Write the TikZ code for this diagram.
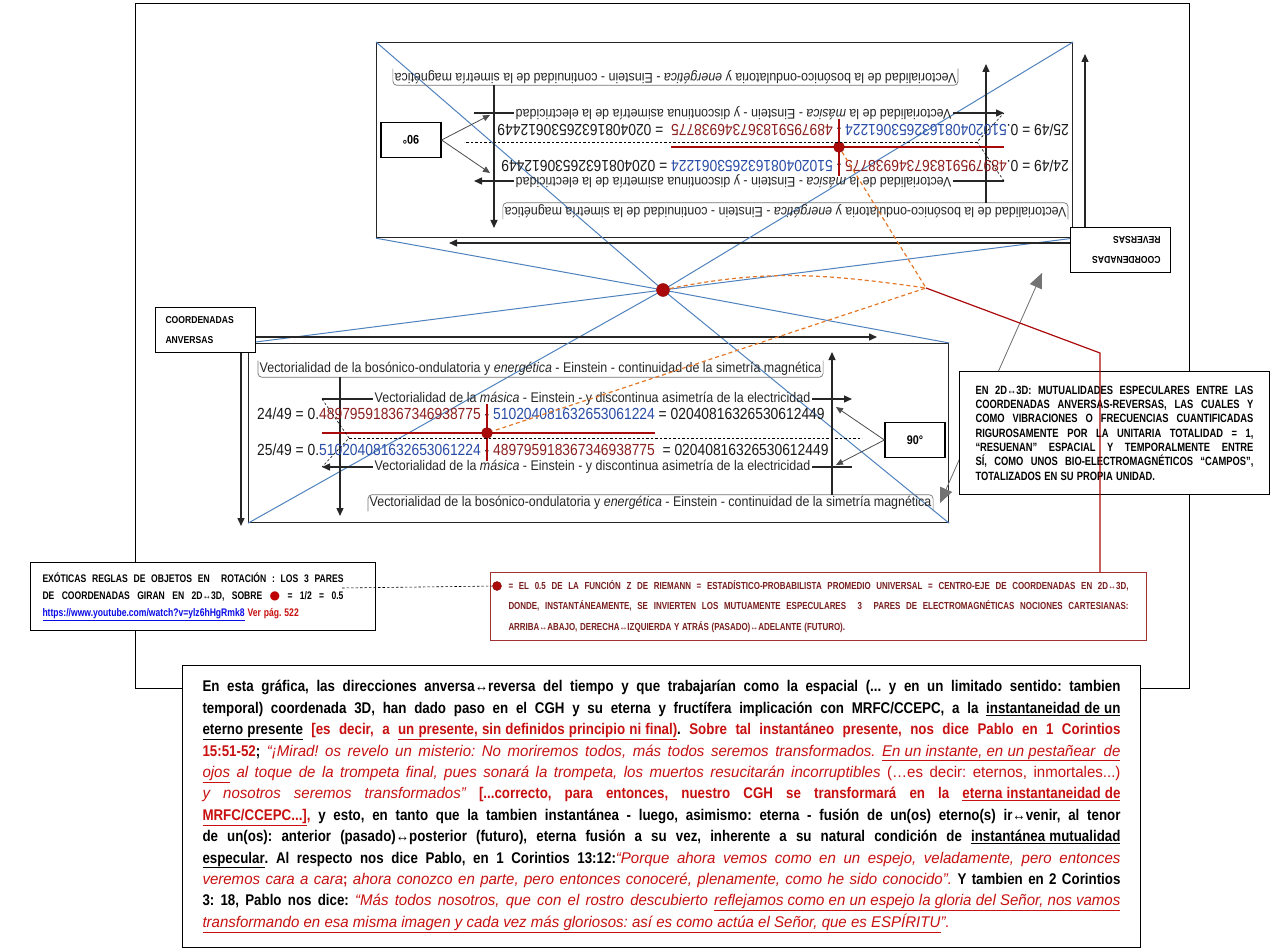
\documentclass[tikz,border=0pt]{standalone}
\usepackage{fontspec}
\setmainfont{Liberation Sans}
\newfontfamily\nsans[FakeStretch=0.86]{Liberation Sans}
\newfontfamily\isans[FakeStretch=0.97]{Liberation Sans}
\newfontfamily\vsans[FakeStretch=0.89]{Liberation Sans}
\newfontfamily\csans[FakeStretch=0.78]{Liberation Sans}
\newfontfamily\symfont{DejaVu Sans}
\usetikzlibrary{arrows.meta,calc}

\definecolor{tred}{RGB}{200,16,16}
\definecolor{nred}{RGB}{140,30,30}
\definecolor{nblue}{RGB}{40,75,165}
\definecolor{lblue}{RGB}{79,129,189}
\definecolor{dred}{RGB}{170,10,10}
\definecolor{ora}{RGB}{228,120,40}
\definecolor{linkb}{RGB}{10,10,230}
\definecolor{boxred}{RGB}{160,50,50}
\definecolor{capred}{RGB}{120,30,30}

\newcommand\rb[1]{\textcolor{tred}{#1}}
\newcommand\ri[1]{\textcolor{tred}{\isans\mdseries\itshape #1}}
\newcommand\rr[1]{\textcolor{tred}{\isans\mdseries #1}}
\newcommand\jset{\frenchspacing\spaceskip=0.27em plus 1em minus 0.06em\relax}
\newcommand\jline[1]{\makebox[\hsize][s]{#1}}

% one panel of vectors, given in the frame of the lower panel
\newcommand\coordpanel[2]{%
  \node[vtxt, anchor=west] (#1-up) at (258,369) {Vectorialidad de la bosónico-ondulatoria y \textit{energética} - Einstein - continuidad de la simetría magnética};
  \draw[brk] (#1-up.north west) |- (#1-up.south east) -- (#1-up.north east);
  \coordinate (#1-dn) at (340,516);
  \draw[flow] (#1-up.south -| #1-dn) -- (#1-dn);

  \node[vtxt, anchor=west] (#1-m1) at (373,399) {Vectorialidad de la \textit{másica} - Einstein - y discontinua asimetría de la electricidad};
  \coordinate (#1-m1l) at (322,399);
  \coordinate (#1-m1r) at (852,399);
  \draw[plain] (#1-m1l) -- (#1-m1.west);
  \draw[flow] (#1-m1.east) -- (#1-m1r);

  \node[numtxt, anchor=west] (#1-n1) at (257,414) {24/49 = 0.\textcolor{nred}{489795918367346938775} - \textcolor{nblue}{510204081632653061224} = 02040816326530612449};
  \node[numtxt, anchor=west] (#1-n2) at (257,450) {25/49 = 0.\textcolor{nblue}{510204081632653061224} - \textcolor{nred}{489795918367346938775}\ \ = 02040816326530612449};

  \coordinate (#1-rl) at (322,433);
  \coordinate (#1-rr) at (655,433);
  \coordinate (#1-rt) at (487,404);
  \coordinate (#1-rb) at (487,461);
  \draw[rline] (#1-rl) -- (#1-rr);
  \draw[rline] (#1-rt) -- (#1-rb);
  \node[pdot] (#1-dot) at (487,433) {};

  \coordinate (#1-dl) at (349,438);
  \coordinate (#1-dr) at (862,438);
  \draw[dsh] (#1-dl) -- (#1-dr);

  \node[vtxt, anchor=west] (#1-m2) at (373,467) {Vectorialidad de la \textit{másica} - Einstein - y discontinua asimetría de la electricidad};
  \coordinate (#1-m2l) at (322,467);
  \coordinate (#1-m2r) at (852,467);
  \draw[flow] (#1-m2.west) -- (#1-m2l);
  \draw[plain] (#1-m2.east) -- (#1-m2r);
  \draw[dsh] (#1-m1l) -- (#1-dl) -- (#1-m2l);

  \node[vtxt, anchor=west] (#1-lo) at (368,503) {Vectorialidad de la bosónico-ondulatoria y \textit{energética} - Einstein - continuidad de la simetría magnética};
  \draw[brk] (#1-lo.south west) |- (#1-lo.north east) -- (#1-lo.south east);
  \coordinate (#1-ua) at (832,352);
  \draw[flow] (#1-lo.north -| #1-ua) -- (#1-ua);

  \node[degbox] (#1-deg) at (915,440) {90°};
  \coordinate (#1-g1) at (836,407);
  \coordinate (#1-g2) at (836,465);
  \draw[thinarr] (#1-deg.west) -- (#1-g1);
  \draw[thinarr] (#1-deg.west) -- (#1-g2);

  % axis box with its two arrows
  \coordinate (#1-hr) at (877,337);
  \coordinate (#1-vd) at (241,526);
  \node[cbox, anchor=north west] (#1-cb) at (155,307) {COORDENADAS\\#2};
  \draw[flow] (#1-cb.east |- #1-hr) -- (#1-hr);
  \draw[flow] (#1-cb.south -| #1-vd) -- (#1-vd);
}

\begin{document}
\begin{tikzpicture}[x=1pt, y=-1pt,
  frame/.style={draw=black, line width=0.9pt, inner sep=0pt},
  panel/.style={draw=black!85, line width=1.2pt, inner sep=0pt},
  bline/.style={draw=lblue, line width=1pt},
  vtxt/.style={font=\vsans\fontsize{14}{16}\selectfont, inner sep=1.5pt, text=black!85},
  numtxt/.style={font=\nsans\fontsize{16.1}{18}\selectfont, inner sep=0pt, text=black!90},
  brk/.style={draw=black!55, line width=0.7pt, rounded corners=4pt},
  flow/.style={-{Triangle[length=8pt,width=7pt]}, line width=1.4pt, black!85},
  plain/.style={line width=1.4pt, black!85},
  thinarr/.style={-{Triangle[length=7pt,width=6pt]}, line width=0.8pt, black!70},
  dsh/.style={black, line width=0.6pt, dash pattern=on 2.5pt off 2pt},
  rline/.style={draw=dred, line width=1.2pt},
  pdot/.style={circle, fill=dred, draw=dred!80!black, inner sep=0pt, minimum size=11pt},
  degbox/.style={draw=black, line width=1.2pt, fill=white, minimum width=60, minimum height=35,
                 font=\nsans\bfseries\fontsize{12.5}{14}\selectfont},
  cbox/.style={draw=black, line width=1pt, fill=white, minimum width=100, minimum height=45,
               text width=80, inner xsep=10, align=left, font=\nsans\bfseries\fontsize{10}{20}\selectfont},
  odash/.style={draw=ora, line width=1.2pt, dash pattern=on 4pt off 3pt},
  garr/.style={{Triangle[length=15pt,width=13pt]}-{Triangle[length=15pt,width=13pt]}, draw=black!55, fill=black!60, line width=0.8pt},
  capbox/.style={draw=black, line width=1pt, fill=white, font=\csans\bfseries\fontsize{12}{14.3}\selectfont},
  zbox/.style={draw=boxred, line width=1pt, fill=white, text=capred, font=\csans\bfseries\fontsize{10.2}{20.5}\selectfont},
  notebox/.style={draw=black, line width=1pt, fill=white, font=\nsans\bfseries\fontsize{15.5}{21.4}\selectfont},
]
\useasboundingbox (0,0) rectangle (1275,952);

\node[frame, minimum width=1054, minimum height=685, anchor=north west] (frm) at (135,3) {};
\node[panel, minimum width=696, minimum height=195, anchor=north west] (tp) at (376,42) {};
\node[panel, minimum width=700, minimum height=179, anchor=north west] (bp) at (248,343) {};

% diagonals through the centre
\coordinate (c0) at (663,290);
\draw[bline] (tp.north west) -- (c0) -- (bp.south east);
\draw[bline] (tp.north east) -- (c0) -- (bp.south west);
\draw[bline] (tp.south west) -- (c0) -- (bp.north east);
\draw[bline] (tp.south east) -- (c0) -- (bp.north west);

\coordpanel{b}{ANVERSAS}
\begin{scope}[rotate around={180:(663,290)}, transform shape]
  \coordpanel{t}{REVERSAS}
\end{scope}

% links between the dots
\coordinate (jn) at (926,288);
\coordinate (rk) at (1100,353);
\draw[odash] (t-dot) -- (jn) -- (b-dot);
\draw[odash] (c0) to[out=12, in=172] (jn);
\node[pdot, minimum size=13pt] (cdot) at (c0) {};

\coordinate (ga) at (1042,273);
\coordinate (gb) at (940,503);
\draw[garr] (gb) -- (ga);

\node[capbox, anchor=north west, text width=278, inner xsep=16, minimum height=123] (spec) at (959,371) {\jset
  \jline{EN 2D↔3D: MUTUALIDADES ESPECULARES ENTRE LAS}\\
  \jline{COORDENADAS ANVERSAS-REVERSAS, LAS CUALES Y}\\
  \jline{COMO VIBRACIONES O FRECUENCIAS CUANTIFICADAS}\\
  \jline{RIGUROSAMENTE POR LA UNITARIA TOTALIDAD = 1,}\\
  \jline{“RESUENAN” ESPACIAL Y TEMPORALMENTE ENTRE}\\
  \jline{SÍ, COMO UNOS BIO-ELECTROMAGNÉTICOS “CAMPOS”,}\\
  TOTALIZADOS EN SU PROPIA UNIDAD.};

\node[zbox, anchor=north west, text width=620, inner xsep=18, minimum height=68] (zeta) at (490,572) {\jset
  \jline{= EL 0.5 DE LA FUNCIÓN Z DE RIEMANN = ESTADÍSTICO-PROBABILISTA PROMEDIO UNIVERSAL = CENTRO-EJE DE COORDENADAS EN 2D↔3D,}\\
  \jline{DONDE, INSTANTÁNEAMENTE, SE INVIERTEN LOS MUTUAMENTE ESPECULARES\ \ 3\ \ PARES DE ELECTROMAGNÉTICAS NOCIONES CARTESIANAS:}\\
  ARRIBA↔ABAJO, DERECHA↔IZQUIERDA Y ATRÁS (PASADO)↔ADELANTE (FUTURO).};
\draw[rline] (jn) -- (rk) -- (zeta.north -| rk);
\node[pdot, minimum size=9pt] (rdot) at (497,586) {};

\node[capbox, anchor=north west, text width=321, inner xsep=12, minimum height=68,
      font=\csans\bfseries\fontsize{11}{17}\selectfont] (rules) at (30,562) {\jset
  \makebox[301pt][s]{EXÓTICAS REGLAS DE OBJETOS EN\ \ ROTACIÓN : LOS 3 PARES}\\
  \makebox[301pt][s]{DE COORDENADAS GIRAN EN 2D↔3D, SOBRE {\symfont\fontsize{12}{17}\selectfont\textcolor{red!75!black}{●}} = 1/2 = 0.5}\\
  \textcolor{linkb}{\underline{https://www.youtube.com/watch?v=ylz6hHgRmk8}}\ \textcolor{tred}{Ver pág. 522}};
\coordinate (lk) at (342,588);
\draw[dsh] (lk) -- (rdot);

\node[notebox, anchor=north west, text width=918, inner xsep=20, minimum height=282] (note) at (182,665) {\jset
  \jline{En esta gráfica, las direcciones anversa↔reversa del tiempo y que trabajarían como la espacial (... y en un limitado sentido: tambien}\\
  \jline{temporal) coordenada 3D, han dado paso en el CGH y su eterna y fructífera implicación con MRFC/CCEPC, a la \underline{instantaneidad de un}}\\
  \jline{\underline{eterno presente} \rb{[es decir, a \underline{un presente, sin definidos principio ni final)}}. \rb{Sobre tal instantáneo presente, nos dice Pablo en 1 Corintios}}\\
  \jline{\rb{15:51-52}; \ri{“¡Mirad! os revelo un misterio: No moriremos todos, más todos seremos transformados. \underline{En un instante, en un pestañear\ \ de}}}\\
  \jline{\ri{\underline{ojos} al toque de la trompeta final, pues sonará la trompeta, los muertos resucitarán incorruptibles} \rr{(…es decir: eternos, inmortales...)}}\\
  \jline{\ri{y nosotros seremos transformados”} \rb{[...correcto, para entonces, nuestro CGH se transformará en la \underline{eterna instantaneidad de}}}\\
  \jline{\rb{\underline{MRFC/CCEPC...]},} y esto, en tanto que la tambien instantánea - luego, asimismo: eterna - fusión de un(os) eterno(s) ir↔venir, al tenor}\\
  \jline{de un(os): anterior (pasado)↔posterior (futuro), eterna fusión a su vez, inherente a su natural condición de \underline{instantánea mutualidad}}\\
  \jline{\underline{especular}. Al respecto nos dice Pablo, en 1 Corintios 13:12:\ri{“Porque ahora vemos como en un espejo, veladamente, pero entonces}}\\
  \jline{\ri{veremos cara a cara}\rb{;} \ri{ahora conozco en parte, pero entonces conoceré, plenamente, como he sido conocido”.} Y tambien en 2 Corintios}\\
  \jline{3: 18, Pablo nos dice: \ri{“Más todos nosotros, que con el rostro descubierto \underline{reflejamos como en un espejo la gloria del Señor, nos vamos}}}\\
  \ri{\underline{transformando en esa misma imagen y cada vez más gloriosos: así es como actúa el Señor, que es ESPÍRITU}”.}};
\end{tikzpicture}
\end{document}
